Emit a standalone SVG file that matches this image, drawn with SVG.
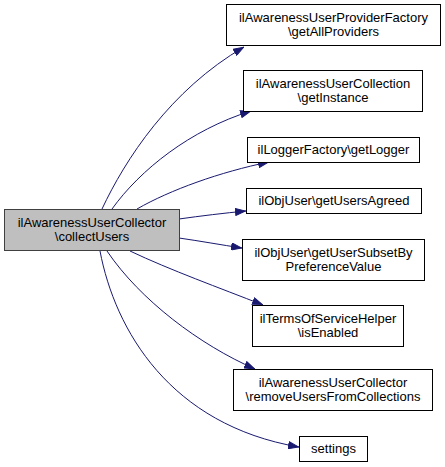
<svg xmlns="http://www.w3.org/2000/svg" width="445" height="467" viewBox="0 0 445 467">
<style>
  .n rect { fill: #ffffff; stroke: #000000; stroke-width: 1; }
  #main rect { fill: #bfbfbf; stroke: #404040; }
  text { font-family: "Liberation Sans", Arial, sans-serif; font-size: 13px; fill: #000000; text-anchor: middle; }
  .e path { fill: none; stroke: #191970; stroke-width: 1; }
</style>
<defs>
  <marker id="ah" viewBox="0 0 11 8" markerWidth="11" markerHeight="8" refX="11" refY="4" orient="auto" markerUnits="userSpaceOnUse">
    <path d="M0.5,0.5 L10.5,4 L0.5,7.5 z" fill="#191970" stroke="#191970"/>
  </marker>
</defs>
<rect width="445" height="467" fill="#ffffff"/>
<g class="e" id="edges">
  <path marker-end="url(#ah)" d="M102,209 C125,160 170,90 244,47"/>
  <path marker-end="url(#ah)" d="M112,209 C140,170 190,130 251,111"/>
  <path marker-end="url(#ah)" d="M137,209 C170,190 220,172 269,162"/>
  <path marker-end="url(#ah)" d="M179,219 C200,216 225,213 246,211"/>
  <path marker-end="url(#ah)" d="M179,238 C200,241 222,245 242,248"/>
  <path marker-end="url(#ah)" d="M130,251 C170,270 220,288 263,305"/>
  <path marker-end="url(#ah)" d="M107,251 C140,300 200,345 255,369"/>
  <path marker-end="url(#ah)" d="M100,251 C115,330 170,425 299,447"/>
</g>
<g class="n" id="main">
  <rect x="4.5" y="209.5" width="175" height="41"/>
  <text x="92" y="227">ilAwarenessUserCollector</text>
  <text x="92" y="241">\collectUsers</text>
</g>
<g class="n" id="n1">
  <rect x="226.5" y="4.5" width="214" height="41"/>
  <text x="333.5" y="22">ilAwarenessUserProviderFactory</text>
  <text x="333.5" y="36">\getAllProviders</text>
</g>
<g class="n" id="n2">
  <rect x="243.5" y="70.5" width="179" height="41"/>
  <text x="333" y="88">ilAwarenessUserCollection</text>
  <text x="333" y="102">\getInstance</text>
</g>
<g class="n" id="n3">
  <rect x="247.5" y="137.5" width="172" height="25"/>
  <text x="333.5" y="154">ilLoggerFactory\getLogger</text>
</g>
<g class="n" id="n4">
  <rect x="246.5" y="188.5" width="175" height="25"/>
  <text x="334" y="205">ilObjUser\getUsersAgreed</text>
</g>
<g class="n" id="n5">
  <rect x="242.5" y="239.5" width="182" height="41"/>
  <text x="333.5" y="257">ilObjUser\getUserSubsetBy</text>
  <text x="333.5" y="271">PreferenceValue</text>
</g>
<g class="n" id="n6">
  <rect x="252.5" y="305.5" width="151" height="41"/>
  <text x="328" y="323">ilTermsOfServiceHelper</text>
  <text x="328" y="337">\isEnabled</text>
</g>
<g class="n" id="n7">
  <rect x="233.5" y="369.5" width="199" height="41"/>
  <text x="333" y="387">ilAwarenessUserCollector</text>
  <text x="333" y="401">\removeUsersFromCollections</text>
</g>
<g class="n" id="n8">
  <rect x="299.5" y="436.5" width="68" height="25"/>
  <text x="333.5" y="453">settings</text>
</g>
</svg>
